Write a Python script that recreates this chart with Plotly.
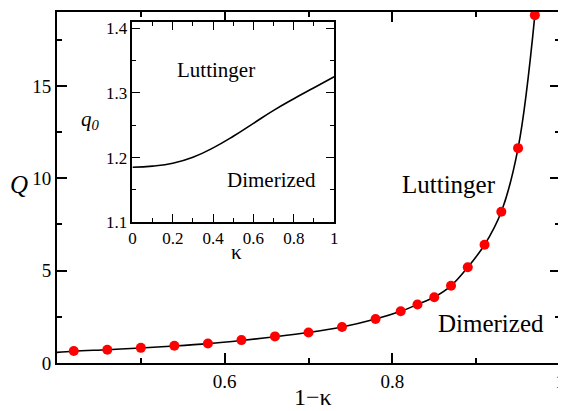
import plotly.graph_objects as go

# Main panel: Q vs 1-kappa
dot_x = [0.42, 0.46, 0.50, 0.54, 0.58, 0.62, 0.66, 0.70, 0.74, 0.78, 0.81, 0.83,
         0.85, 0.87, 0.89, 0.91, 0.93, 0.95, 0.97]
dot_q = [0.65, 0.72, 0.82, 0.93, 1.06, 1.24, 1.44, 1.65, 1.95, 2.38, 2.80, 3.17,
         3.56, 4.18, 5.18, 6.40, 8.19, 11.63, 18.83]

line_x = [0.40, 0.42, 0.46, 0.50, 0.54, 0.58, 0.62, 0.66, 0.70, 0.74, 0.78, 0.81,
          0.83, 0.85, 0.87, 0.89, 0.91, 0.93, 0.95, 0.97, 0.9712]
line_q = [0.575, 0.64, 0.72, 0.81, 0.92, 1.05, 1.22, 1.42, 1.65, 1.95, 2.38, 2.80,
          3.17, 3.57, 4.18, 5.18, 6.40, 8.19, 11.63, 18.83, 19.6]

# Inset: q0 vs kappa
inset_k = [0.0, 0.1, 0.2, 0.3, 0.4, 0.5, 0.6, 0.7, 0.8, 0.9, 1.0]
inset_q0 = [1.185, 1.1868, 1.1912, 1.2005, 1.215, 1.233, 1.253, 1.273, 1.291, 1.308, 1.325]

main_xticks = [0.6, 0.8, 1.0]
main_xticktext = ["0.6", "0.8", "1"]
main_yticks = [0, 5, 10, 15]
inset_xticks = [0, 0.2, 0.4, 0.6, 0.8, 1.0]
inset_xticktext = ["0", "0.2", "0.4", "0.6", "0.8", "1"]
inset_yticks = [1.1, 1.2, 1.3, 1.4]

FONT = "Liberation Serif, Tinos, Times New Roman, DejaVu Serif, serif"

fig = go.Figure()
fig.add_trace(go.Scatter(x=line_x, y=line_q, mode="lines", line=dict(color="black", width=1.6, shape="spline"),
                         showlegend=False, hoverinfo="skip"))
fig.add_trace(go.Scatter(x=dot_x, y=dot_q, mode="markers", marker=dict(color="#ff0000", size=10),
                         showlegend=False, cliponaxis=False))
fig.add_trace(go.Scatter(x=inset_k, y=inset_q0, mode="lines",
                         line=dict(color="black", width=1.6, shape="spline", smoothing=1.3),
                         xaxis="x2", yaxis="y2", showlegend=False))

ax_common = dict(showline=True, linecolor="black", mirror="ticks", ticks="inside", showgrid=False,
                 zeroline=False, tickcolor="black")

# the page body adds an 8px offset; compensate in size and margins
fig.update_layout(
    width=558, height=403,
    margin=dict(l=49, r=3, t=1, b=48),
    paper_bgcolor="white", plot_bgcolor="white",
    font=dict(family=FONT, color="black"),
    xaxis=dict(range=[0.4, 1.0], tickvals=main_xticks, ticktext=main_xticktext, linewidth=2,
               ticklen=10, tickwidth=1.5, tickfont=dict(size=19, family=FONT), ticklabeloverflow="allow",
               minor=dict(tickvals=[0.5, 0.7, 0.9], ticklen=5, ticks="inside", tickcolor="black", tickwidth=1.5),
               **ax_common),
    yaxis=dict(range=[0, 19], tickvals=main_yticks, linewidth=2,
               ticklen=10, tickwidth=1.5, tickfont=dict(size=19, family=FONT),
               minor=dict(tickvals=[2.5, 7.5, 12.5, 17.5], ticklen=5, ticks="inside", tickcolor="black", tickwidth=1.5),
               **ax_common),
    xaxis2=dict(domain=[0.150, 0.551], anchor="y2", range=[0, 1], tickvals=inset_xticks, ticktext=inset_xticktext,
                linewidth=1.5, ticklen=8, tickwidth=1.2, tickfont=dict(size=17, family=FONT),
                minor=dict(tickvals=[0.1, 0.3, 0.5, 0.7, 0.9], ticklen=4, ticks="inside", tickcolor="black", tickwidth=1.2),
                **ax_common),
    yaxis2=dict(domain=[0.401, 0.972], anchor="x2", range=[1.1, 1.41], tickvals=inset_yticks,
                ticktext=["1.1", "1.2", "1.3", "1.4"],
                linewidth=1.5, ticklen=8, tickwidth=1.2, tickfont=dict(size=17, family=FONT),
                minor=dict(tickvals=[1.15, 1.25, 1.35], ticklen=4, ticks="inside", tickcolor="black", tickwidth=1.2),
                **ax_common),
)

fig.add_shape(type="rect", xref="x2 domain", yref="y2 domain", x0=0, x1=1, y0=0, y1=1,
              fillcolor="white", line=dict(width=0), layer="below")

ann = [
    dict(text="Luttinger", x=0.8675, y=9.68, xref="x", yref="y", font=dict(size=25)),
    dict(text="Dimerized", x=0.918, y=2.15, xref="x", yref="y", font=dict(size=25)),
    dict(text="Luttinger", x=0.414, y=1.335, xref="x2", yref="y2", font=dict(size=21)),
    dict(text="Dimerized", x=0.69, y=1.166, xref="x2", yref="y2", font=dict(size=21)),
    dict(text="<i>Q</i>", x=-0.075, y=0.508, xref="paper", yref="paper", font=dict(size=25)),
    dict(text="<i>q</i><sub><i>0</i></sub>", x=0.067, y=0.692, xref="paper", yref="paper", font=dict(size=21)),
    dict(text="κ", x=0.356, y=0.316, xref="paper", yref="paper", font=dict(size=21)),
    dict(text="1−κ", x=0.508, y=-0.097, xref="paper", yref="paper", font=dict(size=24)),
]
for a in ann:
    a["font"]["family"] = FONT
    a["font"]["color"] = "black"
    fig.add_annotation(showarrow=False, xanchor="center", yanchor="middle", **a)

fig.write_html("out.html")
